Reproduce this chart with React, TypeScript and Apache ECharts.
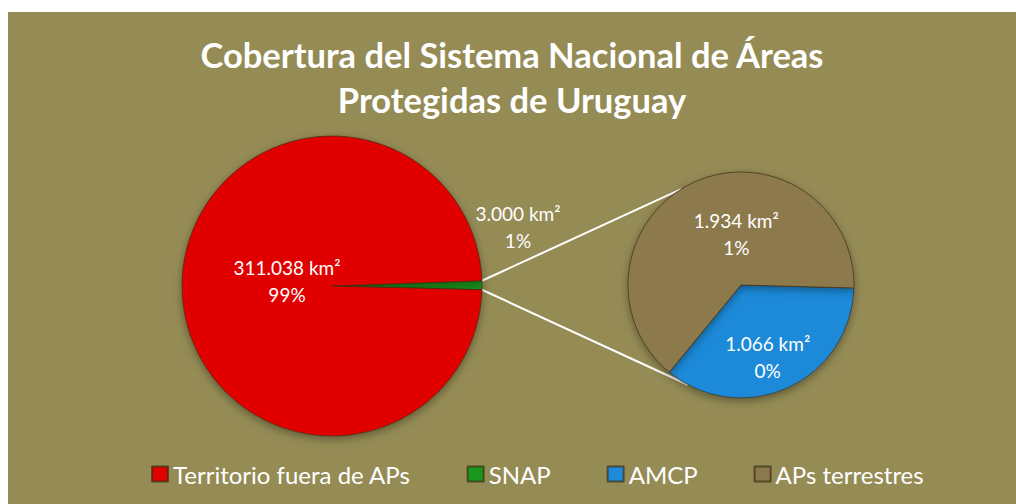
import React, { useEffect, useRef } from "react";
import * as echarts from "echarts";

const categories = ["Territorio fuera de APs", "SNAP", "AMCP", "APs terrestres"];
const mainValues = [311038, 3000]; // Territorio fuera de APs, SNAP
const detailValues = [1066, 1934]; // AMCP, APs terrestres
const colors = ["#E00000", "#1A961A", "#1E8AD8", "#8C7A4E"];

const BG = "#958B55";
const FONT = "Lato, 'Open Sans', sans-serif";

const C1 = [324, 274];
const R1 = 150;
const C2 = [733, 273];
const R2 = 113;
const GREEN_START = 2;

function fmt(n: number) {
  return String(n).replace(/\B(?=(\d{3})+(?!\d))/g, ".");
}

export default function App() {
  const ref = useRef<HTMLDivElement>(null);
  useEffect(() => {
    if (!ref.current) return;
    const chart = echarts.init(ref.current, null, { renderer: "svg" });
    const total = mainValues.reduce((a, b) => a + b, 0);
    const pct = (v: number) => Math.round((v / total) * 100) + "%";
    const labelFmt = (p: any) => `${fmt(p.value)} km²\n${pct(p.value)}`;

    const greenSpan = (mainValues[1] / total) * 360;
    const rad = (d: number) => (d * Math.PI) / 180;
    const p1a = [C1[0] + R1 * Math.cos(rad(GREEN_START)), C1[1] - R1 * Math.sin(rad(GREEN_START))];
    const p1b = [
      C1[0] + R1 * Math.cos(rad(GREEN_START - greenSpan)),
      C1[1] - R1 * Math.sin(rad(GREEN_START - greenSpan)),
    ];
    const p2a = [C2[0] + R2 * Math.cos(rad(238)), C2[1] + R2 * Math.sin(rad(238))];
    const p2b = [C2[0] + R2 * Math.cos(rad(118)), C2[1] + R2 * Math.sin(rad(118))];

    const itemStyleBase = {
      borderColor: "rgba(60,45,20,0.7)",
      borderWidth: 1,
      shadowBlur: 8,
      shadowOffsetY: 3,
      shadowColor: "rgba(0,0,0,0.35)",
    };
    const label = {
      show: true,
      position: "inside",
      color: "#ffffff",
      fontFamily: FONT,
      fontSize: 19,
      lineHeight: 27,
      formatter: labelFmt,
    };

    chart.setOption({
      animation: false,
      backgroundColor: BG,
      title: {
        text: "Cobertura del Sistema Nacional de Áreas\nProtegidas de Uruguay",
        left: "center",
        top: 15,
        textStyle: {
          color: "#ffffff",
          fontFamily: FONT,
          fontWeight: "bold",
          fontSize: 34.5,
          lineHeight: 45,
        },
      },
      legend: {
        data: categories,
        left: 138,
        top: 445,
        icon: "rect",
        itemWidth: 16,
        itemHeight: 15,
        itemGap: 56,
        textStyle: { color: "#ffffff", fontFamily: FONT, fontSize: 24 },
      },
      graphic: [
        {
          type: "line",
          z: 0,
          shape: { x1: p1a[0], y1: p1a[1], x2: p2a[0], y2: p2a[1] },
          style: { stroke: "#ffffff", lineWidth: 2 },
        },
        {
          type: "line",
          z: 0,
          shape: { x1: p1b[0], y1: p1b[1], x2: p2b[0], y2: p2b[1] },
          style: { stroke: "#ffffff", lineWidth: 2 },
        },
      ],
      series: [
        {
          type: "pie",
          center: C1,
          radius: R1,
          startAngle: GREEN_START,
          clockwise: true,
          avoidLabelOverlap: false,
          label,
          labelLine: { show: false },
          emphasis: { disabled: true },
          itemStyle: itemStyleBase,
          labelLayout: (p: any) =>
            p.dataIndex === 0 ? { dx: 108, dy: -59 } : { dx: 33, dy: -5 },
          data: [
            { name: categories[1], value: mainValues[1], itemStyle: { color: colors[1] } },
            { name: categories[0], value: mainValues[0], itemStyle: { color: colors[0] } },
          ],
        },
        {
          type: "pie",
          center: C2,
          radius: R2,
          startAngle: -1.5,
          clockwise: true,
          avoidLabelOverlap: false,
          label,
          labelLine: { show: false },
          emphasis: { disabled: true },
          itemStyle: itemStyleBase,
          labelLayout: (p: any) =>
            p.dataIndex === 0 ? { dx: 2, dy: 18 } : { dx: 20, dy: 3 },
          data: [
            { name: categories[2], value: detailValues[0], itemStyle: { color: colors[2] } },
            { name: categories[3], value: detailValues[1], itemStyle: { color: colors[3] } },
          ],
        },
      ],
    });
    return () => chart.dispose();
  }, []);
  return (
    <div
      ref={ref}
      style={{ position: "absolute", left: 8, top: 12, width: 1008, height: 492 }}
    />
  );
}
